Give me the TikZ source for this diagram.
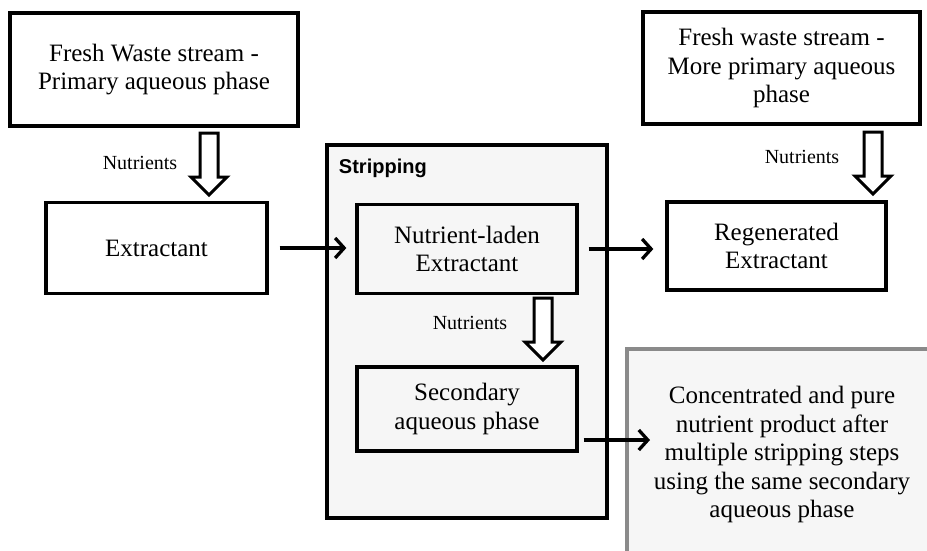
\documentclass[tikz,border=0pt]{standalone}
\usepackage{fontspec}
\setmainfont{Liberation Serif}
\newfontfamily\stripfont{Liberation Sans}
\usetikzlibrary{positioning, arrows.meta}

\definecolor{paleback}{HTML}{F6F6F6}
\definecolor{edgegray}{HTML}{8A8A8A}

\tikzset{
  box/.style={draw, line width=3.3pt, align=center, inner sep=0pt,
    font=\fontsize{25}{28.5}\selectfont},
  lbl/.style={font=\fontsize{20}{22}\selectfont},
  pics/hollow/.style={code={
    \draw[-, line width=3pt, fill=white] (-9,0) -- (9,0) -- (9,44) -- (18,44)
      -- (0,62) -- (-18,44) -- (-9,44) -- cycle;}}
}

\begin{document}
\begin{tikzpicture}[x=1pt,y=-1pt,->,>={Straight Barb[length=9pt,width=20pt]},line width=3.3pt]
      \clip (0,0) rectangle (927,550);
      % stripping stage
      \node[box, fill=paleback, minimum width=280pt, minimum height=373pt] (strip) at (467,331.5) {};
      \node[anchor=west, font=\stripfont\bfseries\fontsize{20}{22}\selectfont] (striplbl) at (334,168) {Stripping};
      \node[box, fill=paleback, draw=edgegray, minimum width=310pt, minimum height=211pt] (prod) at (782,454.5)
        {Concentrated and pure\\nutrient product after\\multiple stripping steps\\using the same secondary\\aqueous phase};
      % boxes
      \node[box, minimum width=288pt, minimum height=113pt] (feed) at (154,69.5) {Fresh Waste stream -\\Primary aqueous phase};
      \node[box, minimum width=221pt, minimum height=91pt] (ext) at (156.5,248) {Extractant};
      \node[box, minimum width=220pt, minimum height=89pt] (laden) at (467,249) {Nutrient-laden\\Extractant};
      \node[box, minimum width=220pt, minimum height=84pt] (sec) at (467,409) {Secondary\\aqueous phase};
      \node[box, minimum width=219pt, minimum height=88pt] (regen) at (776.5,246) {Regenerated\\Extractant};
      \node[box, minimum width=277pt, minimum height=112pt] (feed2) at (781.5,68) {Fresh waste stream -\\More primary aqueous\\phase};
      % nutrient transfer
      \pic at (209,133) {hollow};
      \pic at (543,298) {hollow};
      \pic at (873,132) {hollow};
      \node[lbl] (nut1) at (140,163) {Nutrients};
      \node[lbl] (nut2) at (470,323) {Nutrients};
      \node[lbl] (nut3) at (802,157) {Nutrients};
      % flows
      \coordinate (prodin) at (650,440);
      \draw[shorten <=11pt, shorten >=9pt] (ext.east) -- (ext.east -| laden.west);
      \draw[shorten <=10pt, shorten >=12pt] (laden.east) -- (laden.east -| regen.west);
      \draw[shorten <=5pt] (sec.east |- prodin) -- (prodin);
    \end{tikzpicture}
\end{document}
